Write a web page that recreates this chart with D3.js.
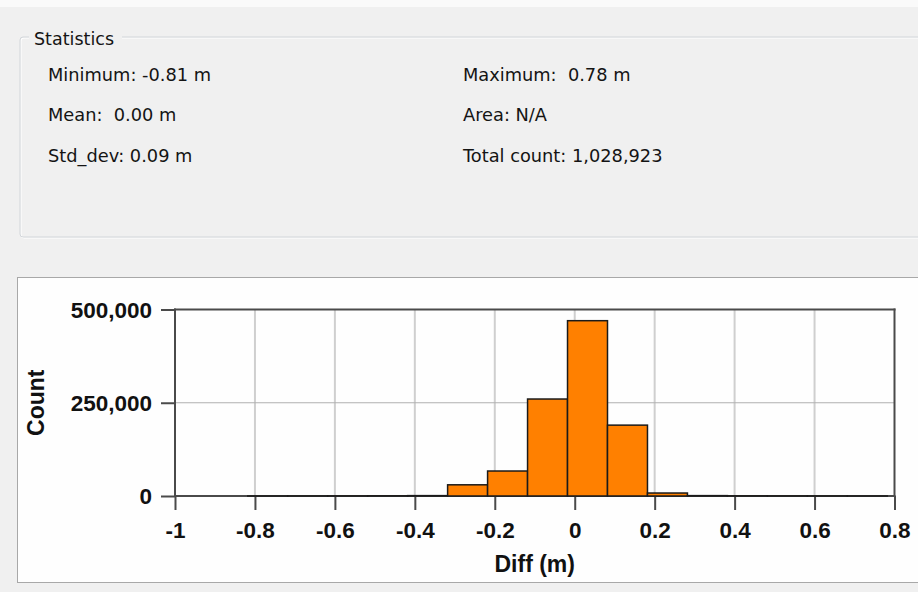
<!DOCTYPE html>
<html>
<head>
<meta charset="utf-8">
<script src="https://cdn.jsdelivr.net/npm/d3@7"></script>
<style>
  html, body { margin: 0; padding: 0; background: #f0f0f0; }
  svg { display: block; }
</style>
</head>
<body>
<script>
// Summary statistics shown in the group box
const statsLeft = ["Minimum: -0.81 m", "Mean:  0.00 m", "Std_dev: 0.09 m"];
const statsRight = ["Maximum:  0.78 m", "Area: N/A", "Total count: 1,028,923"];

// Histogram bins (Diff in metres) and their counts
const binEdges = [-0.818, -0.718, -0.618, -0.518, -0.418, -0.318, -0.218, -0.118,
                  -0.018, 0.082, 0.182, 0.282, 0.382, 0.482, 0.582, 0.682, 0.782];
const binCounts = [50, 100, 200, 500, 1000, 30000, 67000, 260000,
                   470000, 190000, 8000, 1000, 400, 200, 100, 50];

// Axis ticks
const xTicks = [-1, -0.8, -0.6, -0.4, -0.2, 0, 0.2, 0.4, 0.6, 0.8];
const yTicks = [0, 250000, 500000];

const W = 918, H = 592;
const svg = d3.select("body").append("svg").attr("width", W).attr("height", H);

// window background
svg.append("rect").attr("width", W).attr("height", H).attr("fill", "#f0f0f0");
svg.append("rect").attr("width", W).attr("height", 7).attr("fill", "#fafafa");

// ---- Statistics group box ----
const gb = svg.append("g");
gb.append("rect").attr("x", 21).attr("y", 38).attr("width", 940).attr("height", 200)
  .attr("rx", 3).attr("fill", "none").attr("stroke", "#ffffff").attr("stroke-width", 1);
gb.append("rect").attr("x", 20).attr("y", 37).attr("width", 940).attr("height", 200)
  .attr("rx", 3).attr("fill", "none").attr("stroke", "#d2d6da").attr("stroke-width", 1);
// caption gap
gb.append("rect").attr("x", 29).attr("y", 30).attr("width", 93).attr("height", 12).attr("fill", "#f0f0f0");
gb.append("text").attr("x", 34).attr("y", 45).text("Statistics")
  .attr("font-family", "DejaVu Sans").attr("font-size", 17.5).attr("fill", "#141414");

const statFont = { family: "DejaVu Sans", size: 17.8 };
const rowY = [81, 121, 162];
gb.selectAll("text.left").data(statsLeft).join("text").attr("class", "left")
  .attr("x", 48).attr("y", (d, i) => rowY[i]).text(d => d)
  .attr("font-family", statFont.family).attr("font-size", statFont.size).attr("fill", "#141414")
  .style("white-space", "pre");
gb.selectAll("text.right").data(statsRight).join("text").attr("class", "right")
  .attr("x", 463).attr("y", (d, i) => rowY[i]).text(d => d)
  .attr("font-family", statFont.family).attr("font-size", statFont.size).attr("fill", "#141414")
  .style("white-space", "pre");

// ---- Chart panel ----
svg.append("rect").attr("x", 17.5).attr("y", 277.5).attr("width", 920).attr("height", 305)
  .attr("fill", "#fefefe").attr("stroke", "#a8a8a8").attr("stroke-width", 1);

const x = d3.scaleLinear().domain([-1, 0.8]).range([175, 894.5]);
const y = d3.scaleLinear().domain([0, 500000]).range([496, 309.5]);

const chart = svg.append("g");
const tickLen = 14;
const axisColor = "#4a4a4a";

// vertical grid lines
chart.selectAll("line.vgrid").data(xTicks.slice(1, -1)).join("line").attr("class", "vgrid")
  .attr("x1", d => x(d)).attr("x2", d => x(d))
  .attr("y1", y(500000)).attr("y2", y(0))
  .attr("stroke", "#cfcfcf").attr("stroke-width", 2);
// horizontal grid lines
chart.selectAll("line.hgrid").data(yTicks.slice(1, -1)).join("line").attr("class", "hgrid")
  .attr("x1", x(-1)).attr("x2", x(0.8))
  .attr("y1", d => y(d)).attr("y2", d => y(d))
  .attr("stroke", "#b0b0b0").attr("stroke-width", 1.2);

// y axis with ticks (D3 axis), left border of plot
const yAxis = d3.axisLeft(y).tickValues(yTicks).tickSize(tickLen).tickPadding(9)
  .tickFormat(d3.format(","));
const yg = chart.append("g").attr("transform", `translate(${x(-1)},0)`).call(yAxis);
yg.select(".domain").remove();
yg.selectAll(".tick line").attr("stroke", axisColor).attr("stroke-width", 2);
yg.selectAll(".tick text").attr("font-family", "Liberation Sans, Arial, sans-serif")
  .attr("font-weight", "bold").attr("font-size", 22.5).attr("fill", "#111")
  .attr("dy", "0.35em");

// x axis with ticks (D3 axis); labels use a plain hyphen for negatives
const xAxis = d3.axisBottom(x).tickValues(xTicks).tickSize(tickLen).tickPadding(12)
  .tickFormat(d => String(+d.toFixed(1)));
const xg = chart.append("g").attr("transform", `translate(0,${y(0)})`).call(xAxis);
xg.select(".domain").remove();
xg.selectAll(".tick line").attr("stroke", axisColor).attr("stroke-width", 2);
xg.selectAll(".tick text").attr("font-family", "Liberation Sans, Arial, sans-serif")
  .attr("font-weight", "bold").attr("font-size", 22.5).attr("fill", "#111");

// plot frame: top, right, left, bottom
const frame = [
  [x(-1), y(500000), x(0.8), y(500000)],
  [x(0.8), y(500000), x(0.8), y(0)],
  [x(-1), y(500000), x(-1), y(0)],
  [x(-1), y(0), x(0.8), y(0)]
];
chart.selectAll("line.frame").data(frame).join("line").attr("class", "frame")
  .attr("x1", d => d[0]).attr("y1", d => d[1]).attr("x2", d => d[2]).attr("y2", d => d[3])
  .attr("stroke", axisColor).attr("stroke-width", 2).attr("stroke-linecap", "square");

// histogram bars
const bins = binCounts.map((c, i) => ({ x0: binEdges[i], x1: binEdges[i + 1], count: c }));
chart.selectAll("rect.bar").data(bins).join("rect").attr("class", "bar")
  .attr("x", d => x(d.x0)).attr("width", d => x(d.x1) - x(d.x0))
  .attr("y", d => y(d.count)).attr("height", d => y(0) - y(d.count))
  .attr("fill", "#ff8000").attr("stroke", "#1a1a1a").attr("stroke-width", 1.5);

// axis titles
chart.append("text").attr("x", x(-0.1)).attr("y", 572).attr("text-anchor", "middle")
  .text("Diff (m)").attr("font-family", "Liberation Sans, Arial, sans-serif")
  .attr("font-weight", "bold").attr("font-size", 23).attr("fill", "#111");
chart.append("text")
  .attr("transform", `translate(44,${y(250000)}) rotate(-90)`).attr("text-anchor", "middle")
  .text("Count").attr("font-family", "Liberation Sans, Arial, sans-serif")
  .attr("font-weight", "bold").attr("font-size", 23).attr("fill", "#111");
</script>
</body>
</html>
